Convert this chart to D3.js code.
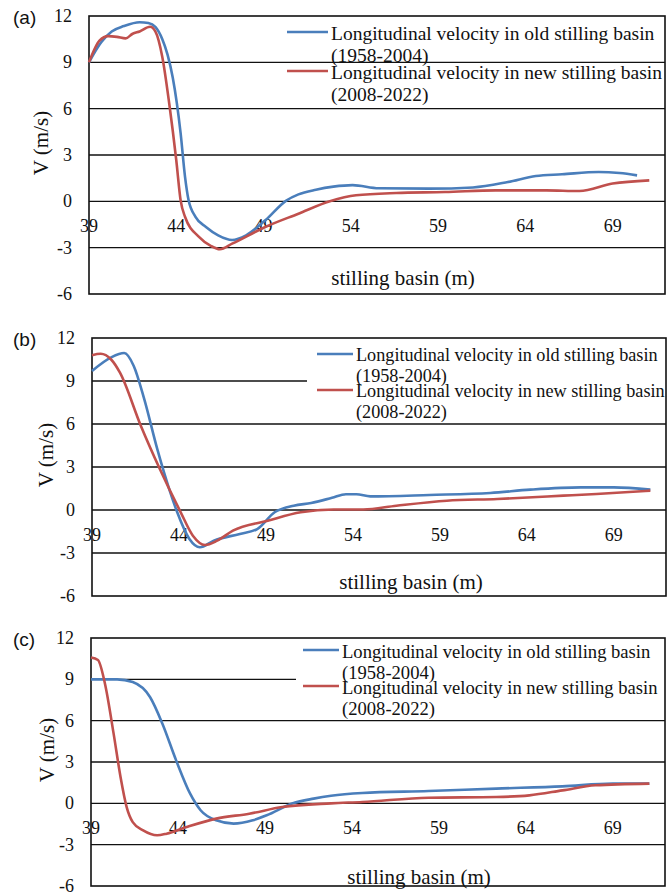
<!DOCTYPE html>
<html>
<head>
<meta charset="utf-8">
<script src="https://cdn.jsdelivr.net/npm/d3@7"></script>
<style>
  body { margin: 0; background: #fff; }
  svg { display: block; }
</style>
</head>
<body>
<svg id="chart"></svg>
<script>
// tick values
const xTicks = [39, 44, 49, 54, 59, 64, 69];
const yTicks = [-6, -3, 0, 3, 6, 9, 12];
const legendLabels = [
    ["Longitudinal velocity in old stilling basin", "(1958-2004)"],
    ["Longitudinal velocity in new stilling basin", "(2008-2022)"]
];

// panel (a)
const xOldA = [39, 39.7, 40.3, 41.0, 41.9, 42.4, 42.8, 43.2, 43.5, 43.8, 44.25, 44.5, 44.7, 45.1, 45.7, 46.4, 47.2, 48.0, 49.1, 50.3, 51.0, 52.0, 53.0, 54.1, 55.6, 58.5, 61.0, 63.0, 64.6, 66.1, 68.2, 69.4, 70.4];
const vOldA = [9.0, 10.3, 11.0, 11.35, 11.6, 11.55, 11.3, 10.5, 9.5, 8.0, 4.4, 1.6, 0.1, -1.0, -1.66, -2.2, -2.5, -2.2, -1.23, 0.05, 0.45, 0.75, 0.95, 1.05, 0.85, 0.82, 0.9, 1.25, 1.64, 1.75, 1.9, 1.83, 1.68];
const xNewA = [39, 39.6, 40.1, 40.6, 41.1, 41.5, 41.9, 42.5, 42.8, 43.2, 43.6, 44.0, 44.25, 44.5, 45.3, 46.0, 46.5, 47.2, 49.1, 51.0, 52.8, 54.3, 56.6, 59.4, 62.3, 65.2, 67.1, 69.0, 71.1];
const vNewA = [9.0, 10.4, 10.7, 10.65, 10.55, 10.85, 11.0, 11.3, 11.0, 9.35, 6.3, 2.66, 0.06, -1.0, -2.3, -2.9, -3.1, -2.74, -1.66, -0.8, 0.0, 0.39, 0.54, 0.6, 0.71, 0.71, 0.67, 1.15, 1.36];

// panel (b)
const xOldB = [39, 40.1, 40.85, 41.4, 42.0, 42.75, 43.5, 43.9, 44.6, 45.2, 46.0, 47.5, 48.5, 49.5, 50.6, 51.6, 52.8, 53.6, 54.2, 55.0, 58.4, 61.9, 64.2, 67.1, 69.0, 71.1];
const vOldB = [9.7, 10.65, 10.95, 10.05, 7.75, 4.26, 1.23, -0.16, -2.02, -2.6, -2.14, -1.67, -1.33, -0.16, 0.3, 0.49, 0.85, 1.1, 1.1, 0.95, 1.05, 1.19, 1.42, 1.58, 1.58, 1.42];
const xNewB = [39, 39.5, 40.1, 40.6, 41.8, 42.9, 44.1, 44.8, 45.5, 46.2, 47.1, 49.1, 51.0, 52.9, 54.6, 56.5, 59.4, 62.3, 66.1, 68.0, 71.1];
const vNewB = [10.8, 10.9, 10.5, 9.6, 5.9, 2.86, -0.16, -1.79, -2.44, -2.14, -1.44, -0.75, -0.16, 0.03, 0.03, 0.3, 0.65, 0.77, 1.0, 1.12, 1.35];

// panel (c)
const xOldC = [39, 40.5, 41.4, 42.4, 43.1, 43.9, 44.7, 45.3, 46.2, 47.2, 48.3, 49.1, 50.6, 51.8, 52.8, 54.6, 58.4, 62.3, 66.1, 69.0, 71.1];
const vOldC = [9.0, 9.0, 8.8, 7.7, 5.8, 3.1, 0.7, -0.5, -1.23, -1.47, -1.23, -0.87, 0.0, 0.34, 0.55, 0.75, 0.89, 1.07, 1.23, 1.43, 1.43];
const xNewC = [39, 39.4, 39.8, 40.3, 40.7, 41.05, 41.4, 42.0, 42.8, 43.35, 44.5, 46.2, 48.1, 50.0, 52.8, 54.6, 58.4, 62.3, 64.2, 66.1, 68.0, 71.1];
const vNewC = [10.58, 10.4, 8.7, 5.06, 1.9, -0.27, -1.36, -1.96, -2.32, -2.2, -1.72, -1.11, -0.75, -0.27, 0.0, 0.1, 0.41, 0.46, 0.58, 0.94, 1.31, 1.43];

const width = 667, height = 893;
const blue = "#4a7ebb", red = "#c0504d";
const serif = "'Liberation Serif', 'Times New Roman', serif";

const svg = d3.select("#chart").attr("width", width).attr("height", height);
svg.append("rect").attr("width", width).attr("height", height).attr("fill", "#fff");

const panels = [
    { tag: "(a)", left: 89, right: 665, top: 16, bottom: 294, legX: 287, legY: 32, legGap: 39, lineGap: 22, legFont: 19.5, legBg: false,
      yLabelX: 41, titleX: 403, titleUp: 16, old: [xOldA, vOldA], nu: [xNewA, vNewA] },
    { tag: "(b)", left: 92, right: 666, top: 338, bottom: 596, legX: 317, legY: 354, legGap: 36, lineGap: 21, legFont: 18.2, legBg: true, bgX: 307,
      yLabelX: 46, titleX: 411, titleUp: 14, old: [xOldB, vOldB], nu: [xNewB, vNewB] },
    { tag: "(c)", left: 91, right: 665, top: 638, bottom: 886, legX: 303, legY: 650, legGap: 36, lineGap: 21, legFont: 18.6, legBg: true, bgX: 296,
      yLabelX: 47, titleX: 419, titleUp: 9, old: [xOldC, vOldC], nu: [xNewC, vNewC] }
];

panels.forEach(drawPanel);

function drawPanel(p) {
    const x = d3.scaleLinear().domain([39, 72]).range([p.left, p.right]);
    const y = d3.scaleLinear().domain([-6, 12]).range([p.bottom, p.top]);
    const g = svg.append("g");

    // gridlines
    g.selectAll(".grid").data(yTicks.filter(d => d > -6 && d < 12)).enter()
        .append("line")
        .attr("x1", p.left).attr("x2", p.right)
        .attr("y1", d => y(d)).attr("y2", d => y(d))
        .attr("stroke", "#111").attr("stroke-width", 1.4);

    // legend background (hides the grid behind it in b and c)
    if (p.legBg) {
        g.append("rect")
            .attr("x", p.bgX).attr("y", p.legY - 14)
            .attr("width", p.right - p.bgX).attr("height", p.legGap + p.lineGap + 26)
            .attr("fill", "#fff");
    }

    // border
    g.append("rect")
        .attr("x", p.left).attr("y", p.top)
        .attr("width", p.right - p.left).attr("height", p.bottom - p.top)
        .attr("fill", "none").attr("stroke", "#111").attr("stroke-width", 1.6);

    // y tick labels
    g.selectAll(".ytick").data(yTicks).enter()
        .append("text")
        .attr("x", p.left - 17).attr("y", d => y(d))
        .attr("text-anchor", "end").attr("dominant-baseline", "central")
        .attr("font-family", serif).attr("font-size", 18).attr("fill", "#111")
        .text(d => d);

    // x tick labels (sit just under the zero line)
    g.selectAll(".xtick").data(xTicks).enter()
        .append("text")
        .attr("x", d => x(d)).attr("y", y(0) + 25)
        .attr("text-anchor", "middle").attr("dominant-baseline", "central")
        .attr("font-family", serif).attr("font-size", 18).attr("fill", "#111")
        .text(d => d);

    // series
    const line = d3.line().x(d => x(d[0])).y(d => y(d[1])).curve(d3.curveMonotoneX);
    [[p.old, blue], [p.nu, red]].forEach(([s, col]) => {
        g.append("path")
            .datum(s[0].map((xv, i) => [xv, s[1][i]]))
            .attr("d", line)
            .attr("fill", "none").attr("stroke", col).attr("stroke-width", 2.6);
    });

    // axis titles
    const midY = (p.top + p.bottom) / 2;
    g.append("text")
        .attr("transform", `translate(${p.yLabelX},${midY - 12}) rotate(-90)`)
        .attr("text-anchor", "middle").attr("dominant-baseline", "central")
        .attr("font-family", serif).attr("font-size", 21).attr("fill", "#111")
        .text("V (m/s)");
    g.append("text")
        .attr("x", p.titleX).attr("y", p.bottom - p.titleUp)
        .attr("text-anchor", "middle").attr("dominant-baseline", "central")
        .attr("font-family", serif).attr("font-size", 21).attr("fill", "#111")
        .text("stilling basin (m)");

    // panel letter
    g.append("text")
        .attr("x", 13).attr("y", p.top + 8)
        .attr("font-family", "'Liberation Sans', Arial, sans-serif").attr("font-size", 19).attr("fill", "#111")
        .text(p.tag);

    // legend
    [blue, red].forEach((col, i) => {
        const ly = p.legY + i * p.legGap;
        g.append("line")
            .attr("x1", p.legX).attr("x2", p.legX + (p.legBg ? 36 : 41))
            .attr("y1", ly).attr("y2", ly)
            .attr("stroke", col).attr("stroke-width", 2.6);
        legendLabels[i].forEach((t, k) => {
            g.append("text")
                .attr("x", p.legX + (p.legBg ? 39 : 44)).attr("y", ly + k * p.lineGap + 1)
                .attr("dominant-baseline", "central")
                .attr("font-family", serif).attr("font-size", p.legFont).attr("fill", "#111")
                .text(t);
        });
    });
}
</script>
</body>
</html>
